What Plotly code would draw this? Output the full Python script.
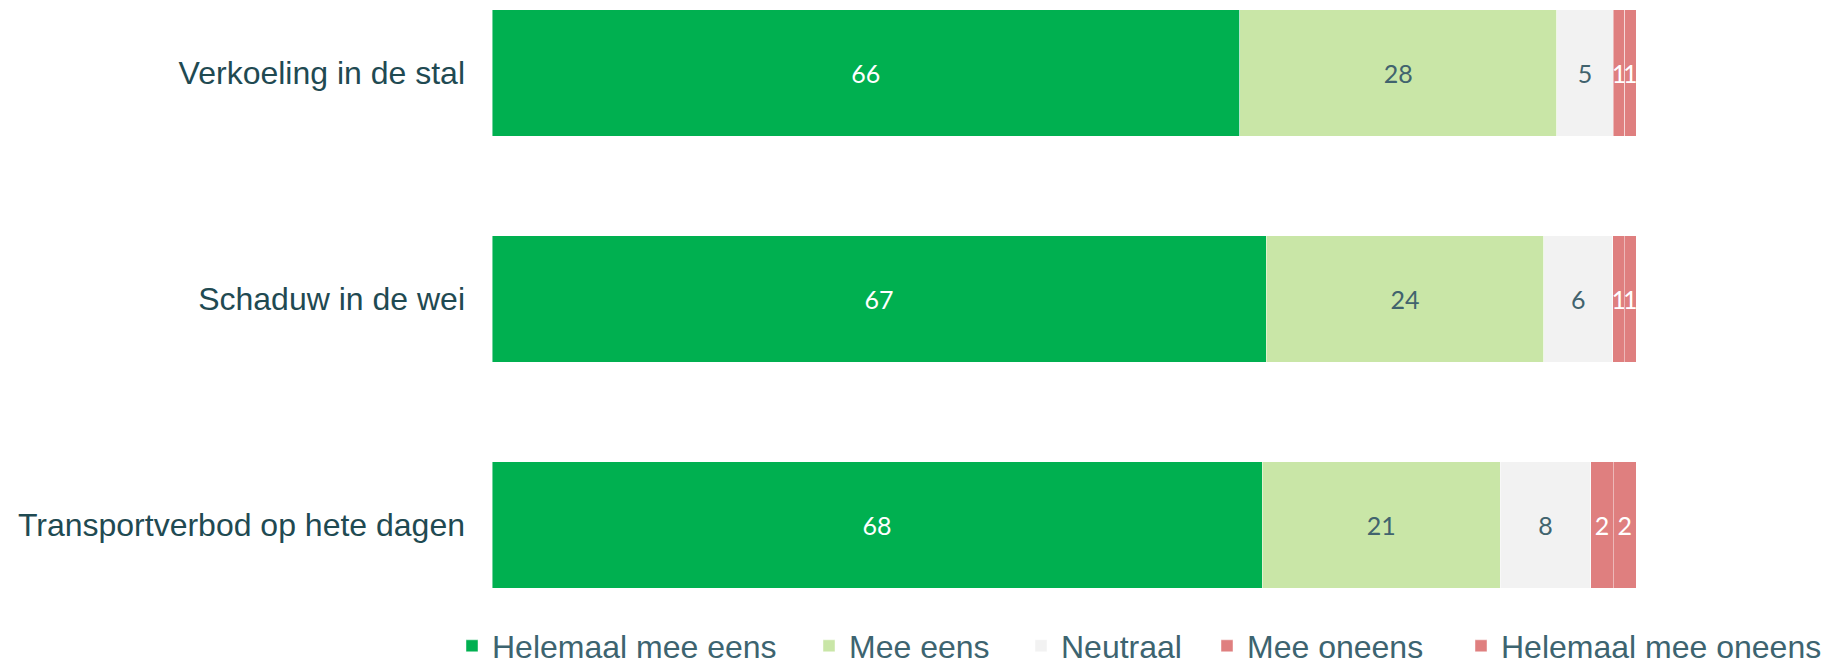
import plotly.graph_objects as go

categories = ["Verkoeling in de stal", "Schaduw in de wei", "Transportverbod op hete dagen"]
series_names = ["Helemaal mee eens", "Mee eens", "Neutraal", "Mee oneens", "Helemaal mee oneens"]
helemaal_mee_eens = [66, 67, 68]
mee_eens = [28, 24, 21]
neutraal = [5, 6, 8]
mee_oneens = [1, 1, 2]
helemaal_mee_oneens = [1, 1, 2]

series_values = [helemaal_mee_eens, mee_eens, neutraal, mee_oneens, helemaal_mee_oneens]
colors = ["#00b050", "#c9e6a7", "#f2f2f2", "#df7f7f", "#df7f7f"]
text_colors = ["#ffffff", "#41636e", "#41636e", "#ffffff", "#ffffff"]

W, H = 1824, 668
ml, mr, mt, mb = 492, 188, 0, 68
plot_w = W - ml - mr
plot_h = H - mt - mb

# legend text start positions (px)
legend_text_x = [492, 849, 1061, 1247, 1501]
legend_center_y = 646

fig = go.Figure()
for i, (name, vals) in enumerate(zip(series_names, series_values)):
    lg = "legend" if i == 0 else f"legend{i+1}"
    fig.add_trace(go.Bar(
        y=categories, x=vals, name=name, orientation="h",
        marker=dict(color=colors[i], line=dict(color="rgba(255,255,255,0.45)", width=1)),
        text=vals, texttemplate="%{text}", textposition="inside",
        insidetextanchor="middle", textangle=0,
        textfont=dict(family="Lato", size=25, color=text_colors[i]),
        legend=lg, showlegend=True,
    ))

layout_legends = {}
for i in range(5):
    key = "legend" if i == 0 else f"legend{i+1}"
    layout_legends[key] = dict(
        orientation="h", x=(legend_text_x[i] - 40 - ml) / plot_w, xanchor="left",
        y=(plot_h - legend_center_y) / plot_h, yanchor="middle", itemwidth=30,
        font=dict(family="Liberation Sans, Arial", size=32, color="#3d6470"),
        bgcolor="rgba(0,0,0,0)", borderwidth=0,
        itemclick=False, itemdoubleclick=False,
    )

fig.update_layout(
    width=W, height=H,
    margin=dict(l=ml, r=mr, t=mt, b=mb, autoexpand=False),
    showlegend=True,
    barmode="stack", barnorm="percent", bargap=0.44,
    plot_bgcolor="white", paper_bgcolor="white",
    uniformtext=dict(minsize=25, mode="show"),
    xaxis=dict(range=[0, 100], visible=False, fixedrange=True),
    yaxis=dict(
        categoryorder="array", categoryarray=categories,
        range=[2.332, -0.323], showgrid=False, zeroline=False, showline=False,
        ticks="", ticklabelstandoff=26,
        tickfont=dict(family="Liberation Sans, Arial", size=32, color="#1f4a52"),
    ),
    **layout_legends,
)

fig.write_html(
    "out.html",
    config={"displayModeBar": False},
    post_script="document.body.style.margin='0';document.body.style.overflow='hidden';",
)
